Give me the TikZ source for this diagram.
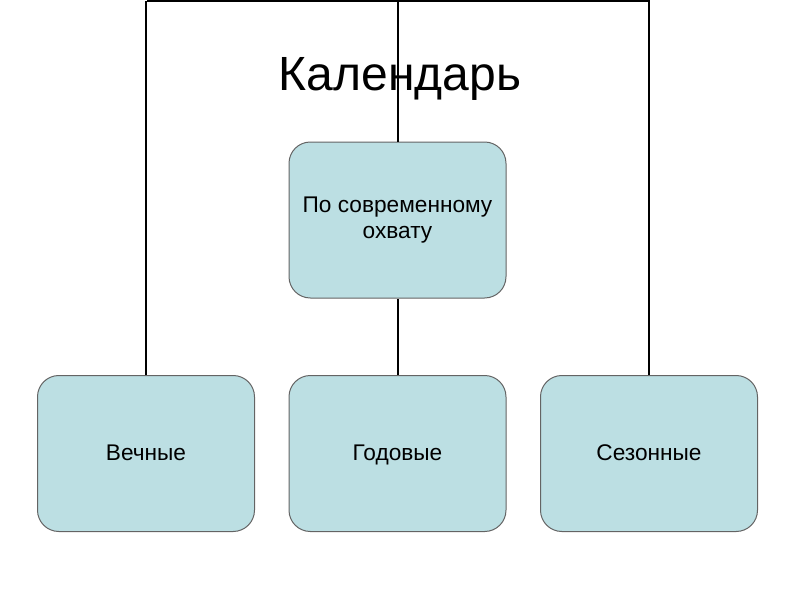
\documentclass[tikz,border=0pt]{standalone}
\usepackage{fontspec}
\setmainfont{Liberation Sans}
\definecolor{boxfill}{RGB}{188,223,227}
\definecolor{boxline}{RGB}{100,100,100}
\begin{document}
\begin{tikzpicture}[x=0.75pt, y=-0.75pt, font=\fontsize{17}{20}\selectfont,
  kind/.style={draw=boxline, line width=0.75pt, fill=boxfill, rounded corners=16pt,
    minimum width=162.75pt, minimum height=117pt, inner sep=0pt},
  group/.style={kind, align=center},
  leaf/.style={kind, text height=2.2ex, text depth=0.2ex},
  link/.style={line width=1.5pt, black}]
  \useasboundingbox (0,0) rectangle (800,600);
  % ---------------- boxes ----------------
  \node[group] (scope) at (397.5,220) {По современному\\охвату};
  \node[leaf] (eternal) at (146,453.5) {Вечные};
  \node[leaf] (yearly) at (397.5,453.5) {Годовые};
  \node[leaf] (season) at (649,453.5) {Сезонные};
  % ---------------- frame from the top edge ----------------
  \coordinate (topL) at (147,1);
  \coordinate (topR) at (650,1);
  \draw[link] (topL) -- (topR);
  \draw[link] (eternal.north) -- (eternal.north |- topL);
  \draw[link] (season.north) -- (season.north |- topL);
  \draw[link] (yearly.north) -- (scope.south);
  % ---------------- title ----------------
  \node[font=\fontsize{36}{40}\selectfont] (title) at (400,79) {Календарь};
  \draw[link] (scope.north) -- (scope.north |- topL);
\end{tikzpicture}
\end{document}
